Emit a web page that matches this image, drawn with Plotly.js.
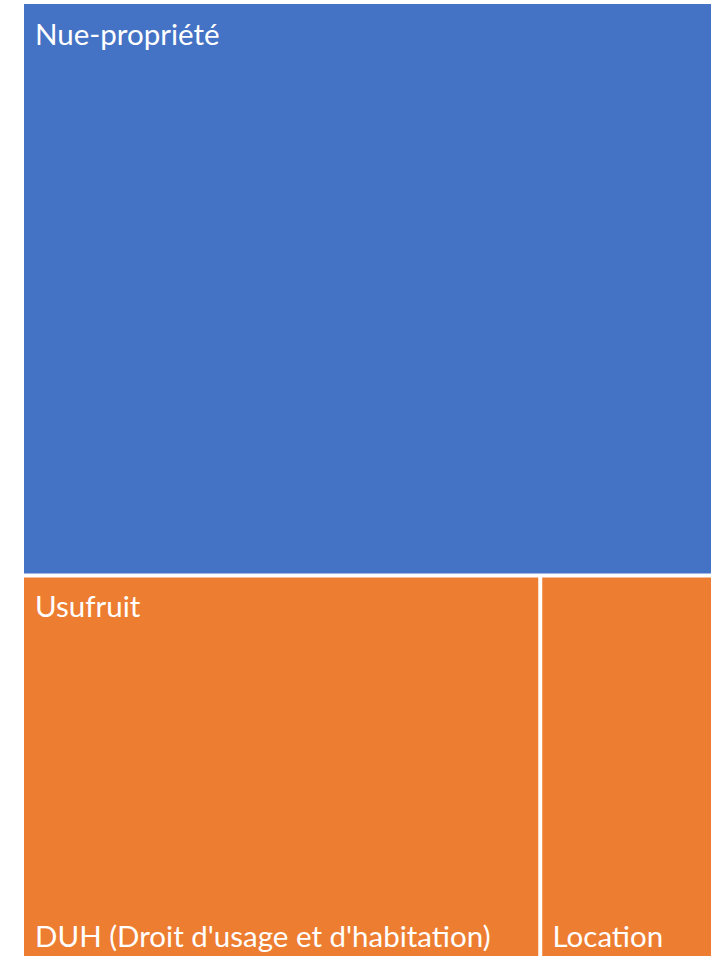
<!DOCTYPE html>
<html>
<head>
<meta charset="utf-8">
<script src="https://cdn.plot.ly/plotly-3.0.1.min.js"></script>
<style>
  html, body { margin: 0; padding: 0; background: #ffffff; }
  #chart { width: 715px; height: 956px; }
</style>
</head>
<body>
<div id="chart"></div>
<script>
// ---- data ----
const ids     = ["Nue-propriété", "Usufruit", "Usufruit/DUH", "Usufruit/Location"];
const labels  = ["Nue-propriété", "Usufruit", "DUH (Droit d'usage et d'habitation)", "Location"];
const parents = ["", "", "Usufruit", "Usufruit"];
const values  = [60, 40, 30, 10];

// top-level categories (labels drawn at the top-left of each group)
const topIdx     = parents.map((p, i) => p === "" ? i : -1).filter(i => i >= 0);
const topIds     = topIdx.map(i => ids[i]);
const topLabels  = topIdx.map(i => labels[i]);
const topValues  = topIdx.map(i => values[i]);
const topParents = topIdx.map(() => "");

// ---- styles ----
const BLUE = "#4472C4", ORANGE = "#ED7D31", CLEAR = "rgba(0,0,0,0)";
const fillColors = [BLUE, CLEAR, ORANGE, ORANGE];
const FONT = {family: "Lato, 'Open Sans', sans-serif", size: 29.5, color: "#ffffff"};

const base = {
  type: "treemap",
  branchvalues: "total",
  sort: true,
  pathbar: {visible: false},
  textfont: FONT,
  hoverinfo: "label+value"
};

// 1) filled tiles, white gaps
const fillTrace = Object.assign({}, base, {
  ids: ids, labels: labels, parents: parents, values: values,
  tiling: {packing: "squarify", squarifyratio: 1, pad: 4},
  marker: {colors: fillColors, line: {color: "#ffffff", width: 0}, pad: {t: 0, l: 0, r: 0, b: 0}},
  textinfo: "none"
});

// 2) group labels, top-left (transparent overlay, inset by padding)
const topLabelTrace = Object.assign({}, base, {
  ids: topIds, labels: topLabels, parents: topParents, values: topValues,
  tiling: {packing: "squarify", squarifyratio: 1, pad: 9.7},
  marker: {colors: topIds.map(() => CLEAR), line: {color: CLEAR, width: 0}, pad: {t: 9, l: 8, r: 0, b: 0}},
  textposition: "top left",
  texttemplate: "%{label}"
});

// 3) leaf labels, bottom-left (transparent overlay, inset by padding)
const leafText = parents.map(p => p === "" ? "" : "%{label}");
const bottomLabelTrace = Object.assign({}, base, {
  ids: ids, labels: labels, parents: parents, values: values,
  tiling: {packing: "squarify", squarifyratio: 1, pad: 11},
  marker: {colors: ids.map(() => CLEAR), line: {color: CLEAR, width: 0}, pad: {t: 0, l: 4, r: 0, b: 0}},
  textposition: "bottom left",
  texttemplate: leafText
});

Plotly.newPlot("chart", [fillTrace, topLabelTrace, bottomLabelTrace], {
  width: 715, height: 956,
  margin: {l: 24, r: 4, t: 4, b: 0},
  paper_bgcolor: "#ffffff",
  showlegend: false
}, {staticPlot: true});
</script>
</body>
</html>
